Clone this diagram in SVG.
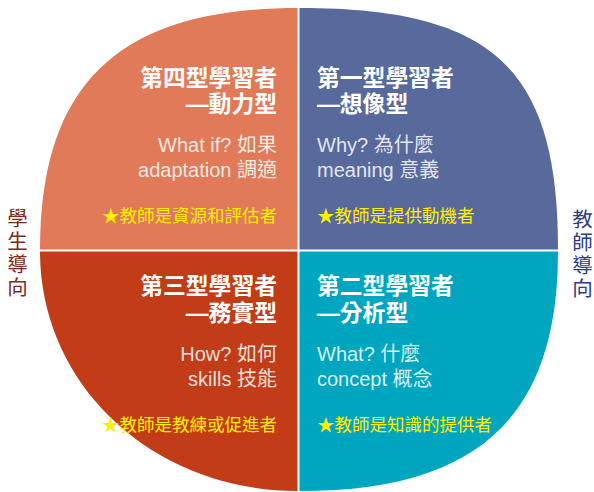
<svg xmlns="http://www.w3.org/2000/svg" width="594" height="492" viewBox="0 0 594 492">
<style>
.t{font-family:"Liberation Sans","Noto Sans CJK TC",sans-serif;font-size:22.8px;font-weight:bold;fill:#fff}
.s{font-family:"Liberation Sans","Noto Sans CJK TC",sans-serif;font-size:20px;fill:#fff;fill-opacity:0.85}
.y{font-family:"Liberation Sans","Noto Sans CJK TC",sans-serif;font-size:17.5px;fill:#FFEE00}
.r{text-anchor:end}
.v{font-family:"Noto Sans CJK TC",sans-serif;font-size:20.5px;letter-spacing:2.6px;writing-mode:vertical-rl;text-orientation:upright}
</style>
<rect width="594" height="492" fill="#fff"/>
<g id="q4">
<path d="M297.5,249.5 L297.5,8 C119.8,8 40,82.9 40,249.5 Z" fill="#E07A58"/>
<text class="t r" x="277" y="86">第四型學習者</text>
<text class="t r" x="277" y="112">—動力型</text>
<text class="s r" x="277" y="152">What if? 如果</text>
<text class="s r" x="277" y="177">adaptation 調適</text>
<text class="y r" x="277" y="222">★教師是資源和評估者</text>
</g>
<g id="q1">
<path d="M299.5,249.5 L299.5,8 C493.4,8 558,68.4 558,249.5 Z" fill="#586A9C"/>
<text class="t" x="317" y="86">第一型學習者</text>
<text class="t" x="317" y="112">—想像型</text>
<text class="s" x="317" y="152">Why? 為什麼</text>
<text class="s" x="317" y="177">meaning 意義</text>
<text class="y" x="317" y="222">★教師是提供動機者</text>
</g>
<g id="q3">
<path d="M297.5,251.5 L297.5,491 C153.3,491 40,385.6 40,251.5 Z" fill="#C13C17"/>
<text class="t r" x="277" y="294">第三型學習者</text>
<text class="t r" x="277" y="321">—務實型</text>
<text class="s r" x="277" y="361">How? 如何</text>
<text class="s r" x="277" y="386">skills 技能</text>
<text class="y r" x="277" y="431">★教師是教練或促進者</text>
</g>
<g id="q2">
<path d="M299.5,251.5 L299.5,491 C477.9,491 558,416.8 558,251.5 Z" fill="#00A6BF"/>
<text class="t" x="317" y="294">第二型學習者</text>
<text class="t" x="317" y="321">—分析型</text>
<text class="s" x="317" y="361">What? 什麼</text>
<text class="s" x="317" y="386">concept 概念</text>
<text class="y" x="317" y="431">★教師是知識的提供者</text>
</g>
<g id="left-label">
<text class="v" x="17.5" y="207.5" fill="#7A2A1E">學生導向</text>
</g>
<g id="right-label">
<text class="v" x="582.5" y="208.5" fill="#2E3B86">教師導向</text>
</g>
</svg>
